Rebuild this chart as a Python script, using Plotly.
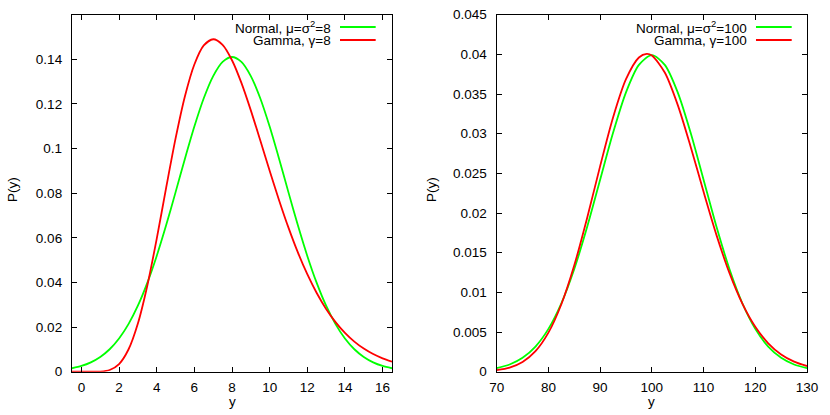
import plotly.graph_objects as go

# ---- data ----
x_left = [-0.5, 0, 0.5, 1, 1.5, 2, 2.5, 3, 3.5, 4, 4.5, 5, 5.5, 6, 6.5, 7, 7.5, 8,
          8.5, 9, 9.5, 10, 10.5, 11, 11.5, 12, 12.5, 13, 13.5, 14, 14.5, 15, 15.5, 16, 16.5]
normal_left = [0.00154, 0.00258, 0.00419, 0.00660, 0.01006, 0.01487, 0.02130, 0.02956,
               0.03979, 0.05189, 0.06559, 0.08037, 0.09545, 0.10985, 0.12254, 0.13250,
               0.13886, 0.14105, 0.13886, 0.13250, 0.12254, 0.10985, 0.09545, 0.08037,
               0.06559, 0.05189, 0.03979, 0.02956, 0.02130, 0.01487, 0.01006, 0.00660,
               0.00419, 0.00258, 0.00154]
gamma_left = [0.0, 0.0, 0.000001, 0.00007, 0.00076, 0.00344, 0.00994, 0.02160, 0.03855,
              0.05954, 0.08236, 0.10444, 0.12345, 0.13768, 0.14623, 0.14900, 0.14648,
              0.13959, 0.12942, 0.11712, 0.10371, 0.09008, 0.07688, 0.06458, 0.05346,
              0.04368, 0.03526, 0.02814, 0.02223, 0.01739, 0.01349, 0.01037, 0.00791,
              0.00599, 0.00451]

x_right_n = [70, 72.5, 75, 77.5, 80, 82.5, 85, 87.5, 90, 92.5, 95, 97.5, 100,
             102.5, 105, 107.5, 110, 112.5, 115, 117.5, 120, 122.5, 125, 127.5, 130]
normal_right = [0.000443, 0.000909, 0.001753, 0.003174, 0.005399, 0.008628, 0.012952,
                0.018265, 0.024197, 0.030114, 0.035207, 0.038667, 0.039894, 0.038667,
                0.035207, 0.030114, 0.024197, 0.018265, 0.012952, 0.008628, 0.005399,
                0.003174, 0.001753, 0.000909, 0.000443]
x_right_g = [70, 72.5, 75, 77.5, 80, 82.5, 85, 87.5, 90, 92.5, 95, 97.5, 99, 100,
             102.5, 105, 107.5, 110, 112.5, 115, 117.5, 120, 122.5, 125, 127.5, 130]
gamma_right = [0.000197, 0.000521, 0.001227, 0.002589, 0.004925, 0.008504, 0.013410,
               0.019410, 0.025913, 0.032048, 0.036869, 0.039602, 0.040062, 0.039861,
               0.037712, 0.033635, 0.028365, 0.022671, 0.017217, 0.012451, 0.008593,
               0.005670, 0.003584, 0.002174, 0.001268, 0.000711]

xt_left = [0, 2, 4, 6, 8, 10, 12, 14, 16]
yt_left = [0, 0.02, 0.04, 0.06, 0.08, 0.1, 0.12, 0.14]
yt_left_txt = ["0", "0.02", "0.04", "0.06", "0.08", "0.1", "0.12", "0.14"]
xt_right = [70, 80, 90, 100, 110, 120, 130]
yt_right = [0, 0.005, 0.01, 0.015, 0.02, 0.025, 0.03, 0.035, 0.04, 0.045]
yt_right_txt = ["0", "0.005", "0.01", "0.015", "0.02", "0.025", "0.03", "0.035", "0.04", "0.045"]

legend_left = ["Normal, μ=σ<sup>2</sup>=8", "Gamma, γ=8"]
legend_right = ["Normal, μ=σ<sup>2</sup>=100", "Gamma, γ=100"]

GREEN = "#00ff00"
RED = "#ff0000"
FONT = "Liberation Sans, Arial, sans-serif"
FS = 13.5

W, H = 830, 415
top_px, bot_px = 14.7, 371.7
L1, R1 = 72, 392
L2, R2 = 496.7, 807

fig = go.Figure()
line_kw = dict(width=1.8, shape="spline", smoothing=0.8)
fig.add_trace(go.Scatter(x=x_left, y=normal_left, mode="lines", line=dict(color=GREEN, **line_kw),
                         xaxis="x", yaxis="y", showlegend=False))
fig.add_trace(go.Scatter(x=x_left, y=gamma_left, mode="lines", line=dict(color=RED, **line_kw),
                         xaxis="x", yaxis="y", showlegend=False))
fig.add_trace(go.Scatter(x=x_right_n, y=normal_right, mode="lines", line=dict(color=GREEN, **line_kw),
                         xaxis="x2", yaxis="y2", showlegend=False))
fig.add_trace(go.Scatter(x=x_right_g, y=gamma_right, mode="lines", line=dict(color=RED, **line_kw),
                         xaxis="x2", yaxis="y2", showlegend=False))

ydom = [1 - bot_px / H, 1 - top_px / H]
axis_common = dict(showline=True, linecolor="black", linewidth=1.3, mirror="ticks",
                   ticks="inside", ticklen=5, tickwidth=1, tickcolor="black",
                   showgrid=False, zeroline=False, automargin=False,
                   tickfont=dict(family=FONT, size=FS, color="black"))

fig.update_layout(
    width=W, height=H,
    margin=dict(l=0, r=0, t=0, b=0, autoexpand=False),
    paper_bgcolor="white", plot_bgcolor="white",
    font=dict(family=FONT, size=FS, color="black"),
    xaxis=dict(domain=[L1 / W, R1 / W], range=[-0.5, 16.5], tickvals=xt_left,
               anchor="y", ticklabelstandoff=3, **axis_common),
    yaxis=dict(domain=ydom, range=[0, 0.16], tickvals=yt_left, ticktext=yt_left_txt,
               anchor="x", ticklabelstandoff=6, **axis_common),
    xaxis2=dict(domain=[L2 / W, R2 / W], range=[70, 130], tickvals=xt_right,
                anchor="y2", ticklabelstandoff=3, **axis_common),
    yaxis2=dict(domain=ydom, range=[0, 0.045], tickvals=yt_right, ticktext=yt_right_txt,
                anchor="x2", ticklabelstandoff=6, **axis_common),
)

annotations = []
shapes = []
# axis titles
for cx in [(L1 + R1) / 2, (L2 + R2) / 2]:
    annotations.append(dict(text="y", x=cx / W, y=1 - 401 / H, xref="paper", yref="paper",
                            showarrow=False, xanchor="center", yanchor="middle",
                            font=dict(family=FONT, size=FS)))
for cx in [13, 432]:
    annotations.append(dict(text="P(y)", x=cx / W, y=1 - 190 / H, xref="paper", yref="paper",
                            showarrow=False, xanchor="center", yanchor="middle", textangle=-90,
                            font=dict(family=FONT, size=FS)))

# in-plot keys
def add_key(xref, yref, labels, text_end, l0, l1):
    rows = [27, 40]
    for lab, row, col in zip(labels, rows, [GREEN, RED]):
        yy = 1 - (row - top_px) / (bot_px - top_px)
        annotations.append(dict(text=lab, x=text_end, y=yy, xref=xref, yref=yref,
                                showarrow=False, xanchor="right", yanchor="middle",
                                borderpad=0, font=dict(family=FONT, size=FS)))
        shapes.append(dict(type="line", xref=xref, yref=yref, x0=l0, x1=l1, y0=yy, y1=yy,
                           line=dict(color=col, width=1.8)))

add_key("x domain", "y domain", legend_left, 0.8116, 0.8375, 0.949)
add_key("x2 domain", "y2 domain", legend_right, 0.8089, 0.8356, 0.9507)

fig.update_layout(annotations=annotations, shapes=shapes)
fig.write_html("out.html", config={"displayModeBar": False},
               post_script="document.body.style.margin='0';document.body.style.overflow='hidden';")
